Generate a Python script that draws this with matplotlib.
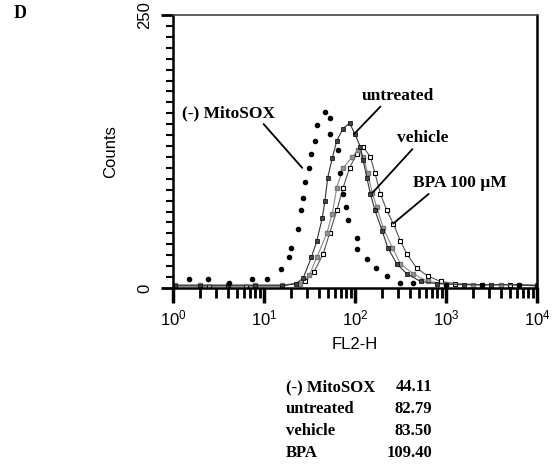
import numpy as np
import matplotlib.pyplot as plt
from matplotlib.ticker import LogLocator, MultipleLocator, FixedLocator

plt.rcParams['font.family'] = ['Liberation Sans', 'DejaVu Sans']
plt.rcParams['mathtext.fontset'] = 'custom'
plt.rcParams['mathtext.rm'] = 'Liberation Sans'
plt.rcParams['mathtext.it'] = 'Liberation Sans'

# log10(FL2-H) positions and counts
mito_log = [0.18, 0.38, 0.62, 0.87, 1.03, 1.19, 1.27, 1.30, 1.37, 1.41, 1.43, 1.45, 1.50,
            1.52, 1.56, 1.58, 1.67, 1.72, 1.73, 1.81, 1.83, 1.87, 1.90, 1.92, 2.02, 2.02,
            2.13, 2.23, 2.35, 2.50, 2.64, 3.0, 3.4, 3.8]
mito_cnt = [8, 8, 5, 8, 8, 17, 28, 37, 54, 71, 82, 97, 110,
            123, 135, 149, 161, 156, 141, 126, 105, 86, 74, 62, 46, 36,
            27, 18, 11, 5, 5, 3, 3, 3]

untr_log = [0.02, 0.3, 0.6, 0.9, 1.2, 1.35, 1.43, 1.52, 1.58, 1.64, 1.67, 1.70, 1.75, 1.80,
            1.87, 1.94, 2.00, 2.06, 2.09, 2.13, 2.17, 2.22, 2.30, 2.36, 2.46, 2.57,
            2.72, 2.9, 3.2, 3.5, 3.8, 4.0]
untr_cnt = [2, 2, 2, 2, 2, 4, 9, 28, 43, 64, 80, 101, 119, 135,
            146, 151, 141, 129, 117, 101, 86, 71, 52, 37, 22, 13,
            6, 4, 3, 3, 3, 2]

veh_log = [0.02, 0.3, 0.6, 0.9, 1.2, 1.4, 1.50, 1.58, 1.69, 1.75, 1.80, 1.87, 1.97, 2.03,
           2.09, 2.14, 2.19, 2.24, 2.31, 2.41, 2.50, 2.64, 2.80, 3.0, 3.3, 3.6, 4.0]
veh_cnt = [3, 3, 3, 3, 3, 4, 12, 28, 50, 68, 92, 110, 120, 126,
           120, 105, 87, 74, 55, 37, 22, 13, 6, 4, 3, 3, 3]

bpa_log = [0.02, 0.4, 0.8, 1.2, 1.45, 1.55, 1.65, 1.72, 1.80, 1.87, 1.94, 2.02, 2.09, 2.17,
           2.22, 2.28, 2.35, 2.42, 2.50, 2.57, 2.68, 2.80, 2.94, 3.1, 3.4, 3.7, 4.0]
bpa_cnt = [2, 2, 2, 2, 6, 15, 31, 50, 71, 92, 110, 123, 129, 120,
           105, 86, 71, 59, 43, 31, 18, 11, 6, 4, 3, 3, 2]

table_names = ['(-) MitoSOX', 'untreated', 'vehicle', 'BPA']
table_vals = ['44.11', '82.79', '83.50', '109.40']

fig = plt.figure(figsize=(5.55, 4.76), dpi=100)
ax = fig.add_axes([173 / 555, 1 - 288 / 476, (537 - 173) / 555, (288 - 15) / 476])

ax.plot(10 ** np.array(bpa_log), bpa_cnt, color='#555555', lw=0.8, marker='s', ms=3,
        mfc='white', mec='black', mew=0.8)
ax.plot(10 ** np.array(veh_log), veh_cnt, color='#888888', lw=0.8, marker='s', ms=3,
        mfc='#999999', mec='#777777')
ax.plot(10 ** np.array(untr_log), untr_cnt, color='#333333', lw=0.8, marker='s', ms=3,
        mfc='#444444', mec='black', mew=0.5)
ax.plot(10 ** np.array(mito_log), mito_cnt, ls='none', marker='o', ms=3, color='black')

ax.set_xscale('log')
ax.set_xlim(1, 1e4)
ax.set_ylim(0, 250)
ax.xaxis.set_major_locator(LogLocator(base=10, numticks=10))
ax.xaxis.set_minor_locator(LogLocator(base=10, subs=np.arange(2, 10), numticks=10))
ax.yaxis.set_major_locator(FixedLocator([0, 250]))
ax.yaxis.set_minor_locator(MultipleLocator(10))
ax.tick_params(axis='x', which='major', direction='out', length=11, width=2.5, labelsize=12, pad=4)
ax.tick_params(axis='x', which='minor', direction='out', length=7, width=2)
ax.tick_params(axis='y', which='major', direction='out', length=9, width=2, labelsize=12, pad=6)
ax.tick_params(axis='y', which='minor', direction='out', length=5, width=1.5)
for lab in ax.get_yticklabels():
    lab.set_rotation(90)
    lab.set_va('center')
for s in ax.spines.values():
    s.set_linewidth(1.8)
ax.spines['top'].set_linewidth(1.2)
ax.spines['top'].set_color('#444444')

ax.set_xlabel('FL2-H', fontsize=12, labelpad=6)
ax.set_ylabel('Counts', fontsize=12, labelpad=14)

serif = ['Liberation Serif', 'DejaVu Serif']
fs = 12.5
# annotations: label text and pointer line (axes data coords)
ax.annotate('(-) MitoSOX', xy=(10 ** 1.42, 110), xytext=(10 ** 0.10, 160),
            fontsize=fs, fontweight='bold', family=serif, va='center', ha='left',
            arrowprops=dict(arrowstyle='-', lw=1.3, color='black', shrinkA=0, shrinkB=0,
                            relpos=(0.85, 0)))
ax.annotate('untreated', xy=(10 ** 1.99, 141), xytext=(10 ** 2.07, 176),
            fontsize=fs, fontweight='bold', family=serif, va='center', ha='left',
            arrowprops=dict(arrowstyle='-', lw=1.3, color='black', shrinkA=0, shrinkB=0,
                            relpos=(0.3, 0)))
ax.annotate('vehicle', xy=(10 ** 2.19, 87), xytext=(10 ** 2.46, 137),
            fontsize=fs, fontweight='bold', family=serif, va='center', ha='left',
            arrowprops=dict(arrowstyle='-', lw=1.3, color='black', shrinkA=0, shrinkB=0,
                            relpos=(0.35, 0)))
ax.annotate('BPA 100 \u00b5M', xy=(10 ** 2.42, 59), xytext=(10 ** 2.64, 96),
            fontsize=fs, fontweight='bold', family=serif, va='center', ha='left',
            arrowprops=dict(arrowstyle='-', lw=1.3, color='black', shrinkA=0, shrinkB=0,
                            relpos=(0.2, 0)))

fig.text(14 / 555, 1 - 13 / 476, 'D', fontsize=13, fontweight='bold', family=serif,
         ha='left', va='center')

for i, (name, val) in enumerate(zip(table_names, table_vals)):
    y = 1 - (387 + 22 * i) / 476
    fig.text(286 / 555, y, name, fontsize=12, fontweight='bold', family=serif,
             ha='left', va='center')
    fig.text(432 / 555, y, val, fontsize=12, fontweight='bold', family=serif,
             ha='right', va='center')

fig.savefig('out.png', dpi=100)
